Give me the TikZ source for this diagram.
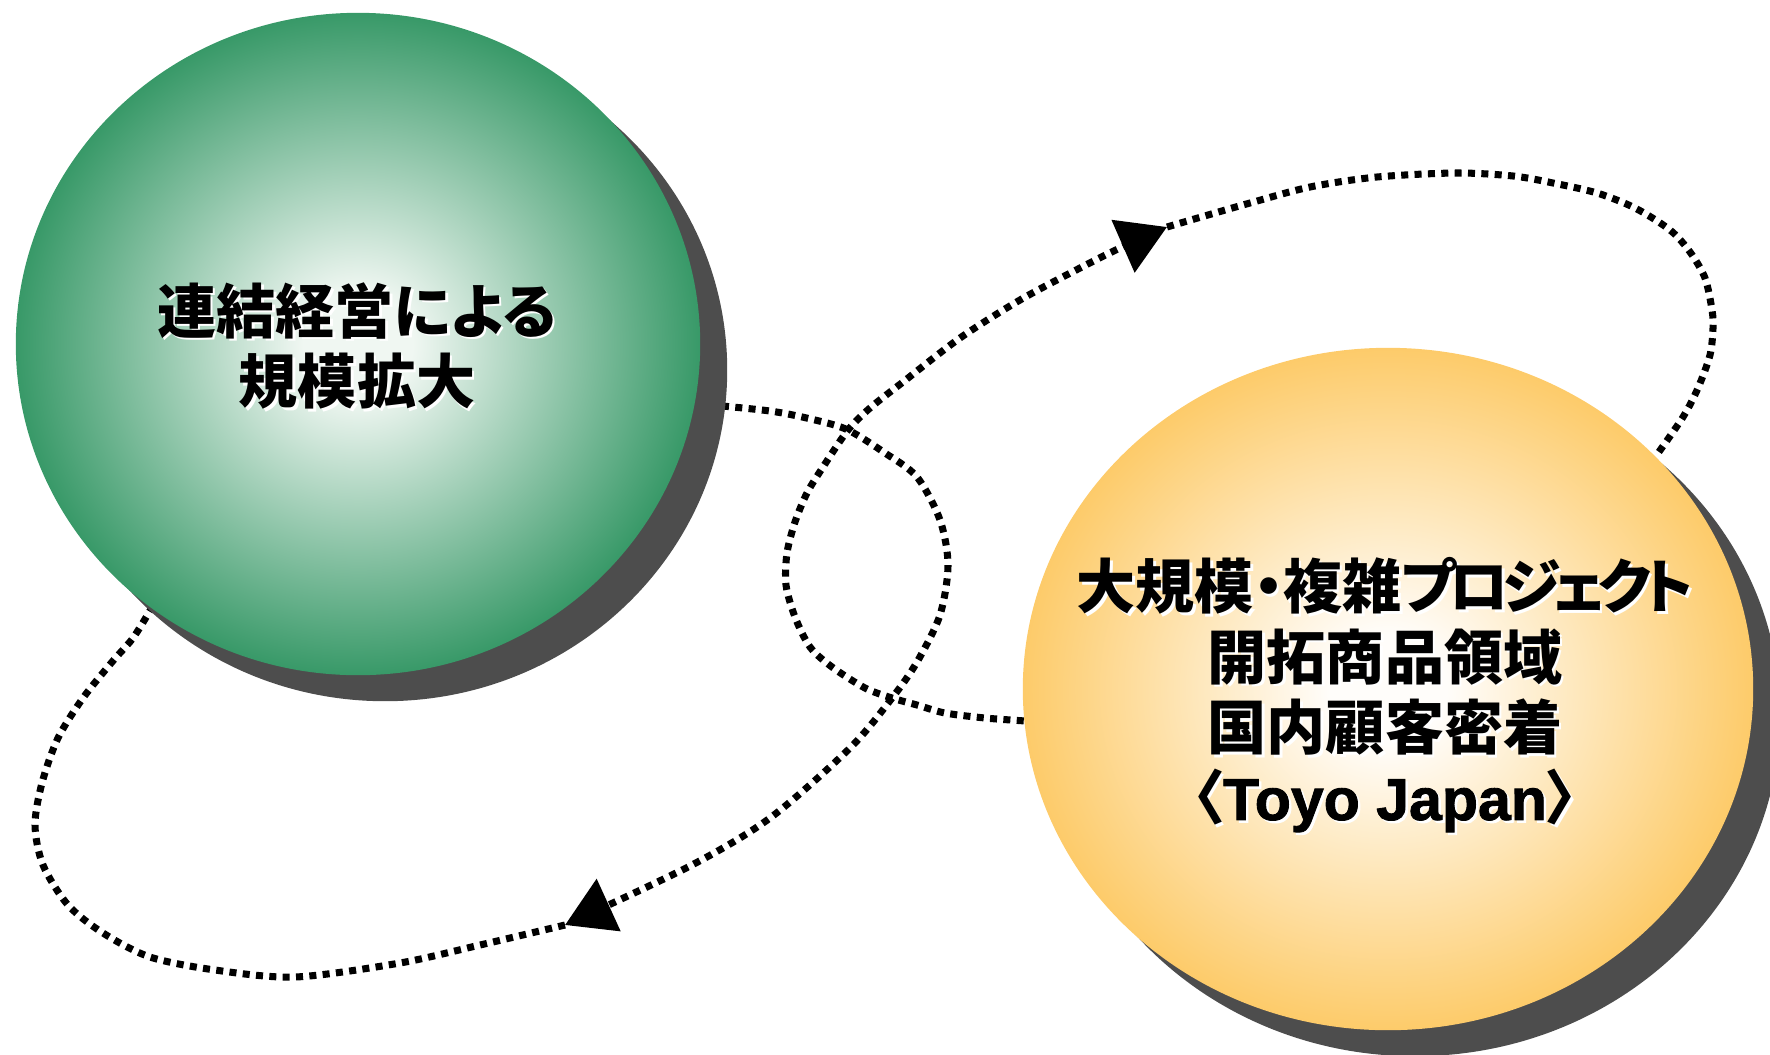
\documentclass[tikz,border=0pt]{standalone}
\usepackage{fontspec}
\newfontfamily\jpfont{Noto Sans CJK JP}[RawFeature=+palt]
\newfontfamily\latinbold{Liberation Sans Bold}[FakeBold=1.5]
\usetikzlibrary{arrows.meta,shapes.geometric,shadows,backgrounds}
\definecolor{greenedge}{RGB}{56,153,104}
\definecolor{greencore}{RGB}{240,247,242}
\definecolor{orangeedge}{RGB}{253,203,106}
\definecolor{orangecore}{RGB}{255,253,250}
\definecolor{shadowgray}{RGB}{77,77,77}
\pgfdeclareradialshading{greenball}{\pgfpoint{0bp}{0bp}}{color(0bp)=(greencore); color(4bp)=(greencore); color(25bp)=(greenedge); color(50bp)=(greenedge)}
\pgfdeclareradialshading{orangeball}{\pgfpoint{0bp}{0bp}}{color(0bp)=(orangecore); color(4bp)=(orangecore); color(25bp)=(orangeedge); color(50bp)=(orangeedge)}
\newcommand\tightkana[1]{{\addfontfeature{LetterSpace=-12}#1}}
\begin{document}
\begin{tikzpicture}[x=0.01cm,y=-0.01cm,
  ball/.style={ellipse,inner sep=0pt,shade,drop shadow={fill=shadowgray,opacity=1,shadow xshift=0.27cm,shadow yshift=-0.26cm}},
  balltext/.style={font=\jpfont\bfseries\fontsize{16.8pt}{20pt}\selectfont,align=center,inner sep=0pt},
  dotline/.style={line width=2pt,dash pattern=on 2pt off 1.8pt},
  arrowend/.style={-{Triangle[length=0.48cm,width=0.56cm]}}]
\useasboundingbox (0,0) rectangle (1770,1054);
\node[ball,minimum width=6.84cm,minimum height=6.62cm,shading=greenball] (green) at (358,344) {};
\node[ball,minimum width=7.30cm,minimum height=6.82cm,shading=orangeball] (orange) at (1388,689) {};
\node[balltext,white] (gshadow) at (359.5,348.5) {連結経営による\\規模拡大};
\node[balltext] (gtext) at (357,346) {連結経営による\\規模拡大};
\node[balltext,white] (oshadow) at (1387.5,697.5) {大規模\tightkana{・}複雑\tightkana{プロジェクト}\\開拓商品領域\\国内顧客密着\\〈{\latinbold Toyo Japan}〉};
\node[balltext] (otext) at (1385,695) {大規模\tightkana{・}複雑\tightkana{プロジェクト}\\開拓商品領域\\国内顧客密着\\〈{\latinbold Toyo Japan}〉};
\coordinate (xup) at (848,430);
\coordinate (xlow) at (892,698);
\coordinate (tipA) at (565,925);
\coordinate (tipB) at (1167,227);
\begin{scope}[on background layer]
\draw[dotline,arrowend] plot[smooth] coordinates {(green.-10) (770,411) (815,420) (xup) (885,453) (917,477) (940,520) (948,565) (940,615) (917,662) (xlow) (850,748) (770,818) (690,866) (tipA)};
\draw[dotline] plot[smooth] coordinates {(tipA) (480,945) (400,963) (295,977) (215,970) (150,957) (103,933) (68,905) (43,865) (35,825) (42,783) (58,738) (83,698) (112,662) (133,638) (green.232)};
\draw[dotline,arrowend] plot[smooth] coordinates {(orange.185) (985,718) (945,713) (917,705) (xlow) (865,688) (832,667) (810,647) (795,617) (786,585) (787,553) (795,522) (807,493) (823,467) (xup) (870,408) (903,382) (960,338) (1020,300) (1080,268) (1120,248) (tipB)};
\draw[dotline] plot[smooth] coordinates {(tipB) (1208,215) (1250,203) (1310,187) (1377,177) (1456,173) (1513,176) (1553,183) (1597,193) (1635,208) (1670,230) (1690,252) (1705,278) (1712,310) (1713,328) (1710,355) (1698,388) (1683,417) (orange.41)};
\end{scope}
\end{tikzpicture}
\end{document}
